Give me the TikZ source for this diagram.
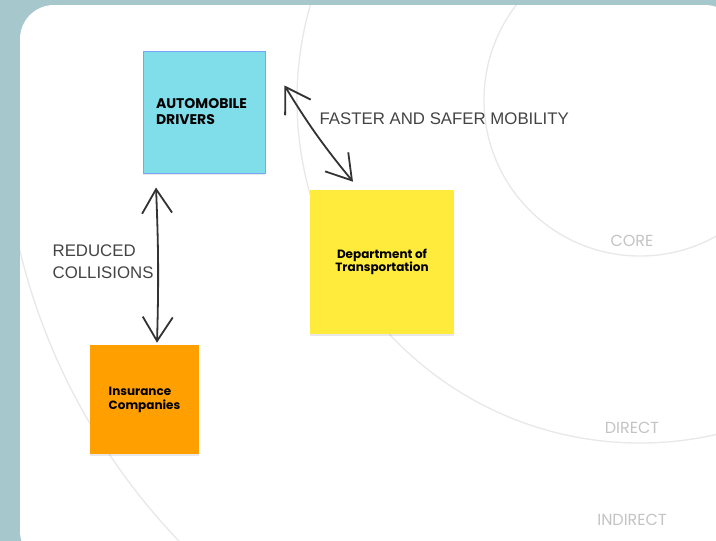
\documentclass[tikz,border=0pt]{standalone}
\usepackage{fontspec}
\setmainfont{Liberation Sans}
\newfontfamily\notefont{Poppins}
\usetikzlibrary{arrows.meta, shadows}

\definecolor{panelbg}{HTML}{A6C7CC}
\definecolor{ringgray}{HTML}{E8E8E8}
\definecolor{ringtext}{HTML}{C4C4C4}
\definecolor{inkgray}{HTML}{333333}
\definecolor{labelgray}{HTML}{444444}
\definecolor{drivercyan}{HTML}{80DEEA}
\definecolor{driverblue}{HTML}{78A6F2}
\definecolor{dotyellow}{HTML}{FFEB3B}
\definecolor{insorange}{HTML}{FFA000}

\begin{document}
\begin{tikzpicture}[x=1pt, y=-1pt, >={Straight Barb[length=24pt, width=30pt]}, semithick]
            \tikzset{note/.style={minimum size=#1, inner sep=0pt, text=black,
                        drop shadow={opacity=0.18, shadow xshift=0pt, shadow yshift=-1.5pt}},
                     ring/.style={draw=ringgray, line width=1.3pt},
                     ringlabel/.style={text=ringtext, font=\notefont\fontsize{16}{18}\selectfont},
                     link/.style={<->, draw=inkgray, line width=1.8pt, line cap=round, line join=round},
                     linklabel/.style={text=labelgray, font=\fontsize{16.8}{22}\selectfont, align=left}};
            \useasboundingbox (0, 0) rectangle (716, 541);
            % Panel
            \fill[panelbg] (0, 0) rectangle (716, 541);
            \fill[white, rounded corners=34pt] (20, 5) rectangle (739, 565);
            % Rings
            \begin{scope}
                \clip[rounded corners=34pt] (20, 5) rectangle (739, 565);
                \foreach \r in {156, 343, 638}{
                    \draw[ring] (640, 100) circle (\r);
                }
            \end{scope}
            \node[ringlabel] (core) at (632, 241) {CORE};
            \node[ringlabel] (direct) at (632, 428) {DIRECT};
            \node[ringlabel] (indirect) at (632, 520) {INDIRECT};
            % Notes
            \node[note=122pt, fill=drivercyan, draw=driverblue, line width=1pt,
                  text width=96pt, align=left,
                  font=\notefont\bfseries\fontsize{14}{16}\selectfont]
                (drivers) at (204, 112) {AUTOMOBILE\\DRIVERS};
            \node[note=144pt, fill=dotyellow, align=center,
                  font=\notefont\bfseries\fontsize{12}{13.5}\selectfont]
                (dot) at (382, 262) {Department of\\Transportation};
            \node[note=109pt, fill=insorange, align=left,
                  font=\notefont\bfseries\fontsize{12}{14}\selectfont]
                (insurance) at (144.5, 399.5) {Insurance\\Companies};
            % Links
            \coordinate (mobtop) at ([xshift=19pt, yshift=-35pt]drivers.north east);
            \coordinate (mobbot) at ([xshift=-29pt, yshift=8pt]dot.north);
            \draw[link] (mobtop) to[bend right=4] (mobbot);
            \node[linklabel, anchor=west] (mobility) at (316, 119) {FASTER AND SAFER MOBILITY};
            \coordinate (coltop) at ([xshift=-48pt, yshift=-14pt]drivers.south);
            \coordinate (colbot) at ([xshift=12.5pt, yshift=2pt]insurance.north);
            \draw[link] (coltop) to[bend left=2] (colbot);
            \node[linklabel, anchor=west] (collisions) at (49, 262) {REDUCED\\COLLISIONS};
        \end{tikzpicture}
\end{document}
